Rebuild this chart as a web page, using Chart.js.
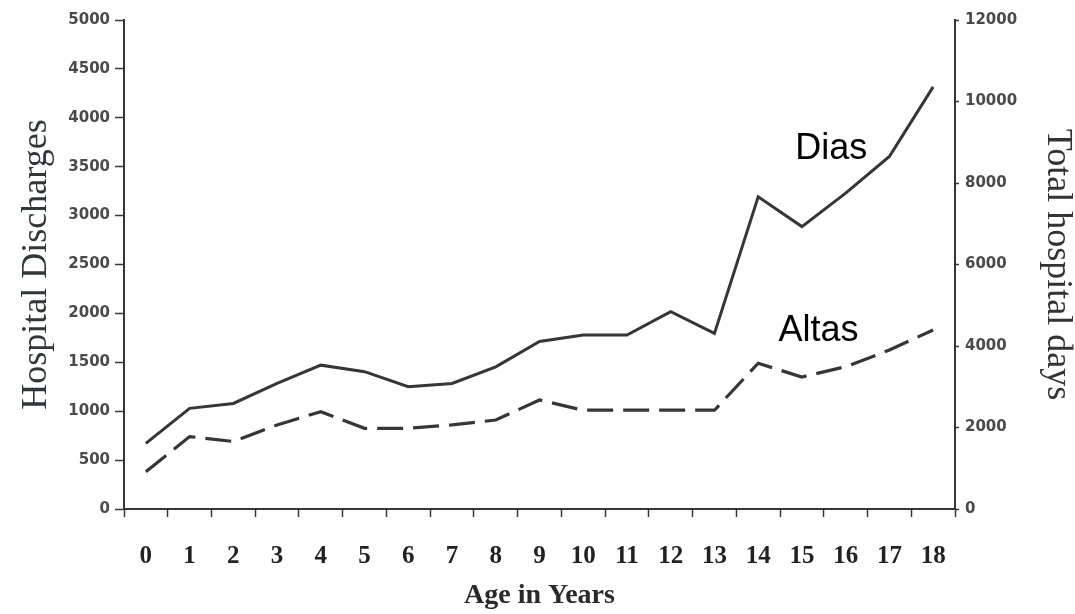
<!DOCTYPE html>
<html>
<head>
<meta charset="utf-8">
<script src="https://cdn.jsdelivr.net/npm/chart.js@4"></script>
<style>
  html, body { margin: 0; padding: 0; background: #fff; }
  #wrap { width: 1075px; height: 614px; }
</style>
</head>
<body>
<div id="wrap"><canvas id="chart" width="1075" height="614"></canvas></div>
<script>
  const ages = ["0", "1", "2", "3", "4", "5", "6", "7", "8", "9", "10", "11", "12", "13", "14", "15", "16", "17", "18"];
  // total hospital days (right axis)
  const dias = [1610, 2470, 2590, 3080, 3530, 3370, 3000, 3080, 3490, 4110, 4270, 4270, 4840, 4310, 7660, 6930, 7750, 8650, 10360];
  // hospital discharges (left axis)
  const altas = [380, 740, 690, 860, 995, 825, 825, 860, 910, 1115, 1010, 1010, 1010, 1010, 1490, 1350, 1455, 1625, 1830];
  // text labels placed in data units: [text, category position, left-axis value]
  const seriesNotes = [
    ["Dias", 15.67, 3680],
    ["Altas", 15.38, 1820],
  ];

  const ink = "#363636";
  const tickFont = { family: "DejaVu Sans", size: 15, weight: "bold" };
  const plain = (value) => String(value);

  const notesPlugin = {
    id: "notes",
    afterDatasetsDraw(chart) {
      const ctx = chart.ctx;
      const x = chart.scales.x;
      const y = chart.scales.y;
      ctx.save();
      ctx.font = "36px 'Liberation Sans', Arial, sans-serif";
      ctx.fillStyle = "#000";
      ctx.textAlign = "center";
      ctx.textBaseline = "middle";
      seriesNotes.forEach(([text, cat, val]) => {
        ctx.fillText(text, x.getPixelForValue(cat), y.getPixelForValue(val));
      });
      ctx.restore();
    },
  };

  new Chart(document.getElementById("chart"), {
    type: "line",
    data: {
      labels: ages,
      datasets: [
        {
          label: "Dias",
          data: dias,
          yAxisID: "y1",
          borderColor: ink,
          borderWidth: 3,
          pointRadius: 0,
          tension: 0,
          fill: false,
        },
        {
          label: "Altas",
          data: altas,
          yAxisID: "y",
          borderColor: ink,
          borderWidth: 3.2,
          borderDash: [26, 10],
          pointRadius: 0,
          tension: 0,
          fill: false,
        },
      ],
    },
    options: {
      responsive: false,
      animation: false,
      layout: { padding: { top: 20, left: 0, right: 0, bottom: 0 } },
      plugins: {
        legend: { display: false },
        tooltip: { enabled: false },
      },
      scales: {
        x: {
          offset: true,
          grid: {
            offset: true,
            drawOnChartArea: false,
            color: ink,
            tickLength: 8,
            tickWidth: 1.5,
          },
          border: { color: ink, width: 2 },
          ticks: {
            color: "#222",
            padding: 25,
            maxRotation: 0,
            autoSkip: false,
            font: { family: "Liberation Serif", size: 25, weight: "bold" },
          },
          title: {
            display: true,
            text: "Age in Years",
            color: "#2a2a2a",
            padding: { top: 0, bottom: 1 },
            font: { family: "Liberation Serif", size: 28, weight: "bold" },
          },
          afterFit(scale) {
            scale.height = 105;
          },
        },
        y: {
          position: "left",
          min: 0,
          max: 5000,
          grid: {
            drawOnChartArea: false,
            color: ink,
            tickLength: 9,
            tickWidth: 1.5,
          },
          border: { color: ink, width: 2 },
          ticks: {
            stepSize: 500,
            color: "#4a4a4a",
            padding: 5,
            font: tickFont,
            callback: plain,
          },
          title: {
            display: true,
            text: "Hospital Discharges",
            color: "#2f373b",
            padding: { top: 19, bottom: 0 },
            font: { family: "Liberation Serif", size: 36, lineHeight: 1 },
          },
          afterFit(scale) {
            scale.width = 124;
          },
        },
        y1: {
          position: "right",
          min: 0,
          max: 12000,
          grid: {
            drawOnChartArea: false,
            color: ink,
            tickLength: 4,
            tickWidth: 1.5,
          },
          border: { color: ink, width: 2 },
          ticks: {
            stepSize: 2000,
            color: "#4a4a4a",
            padding: 6,
            font: tickFont,
            callback: plain,
          },
          title: {
            display: true,
            text: "Total hospital days",
            color: "#333",
            padding: { top: 0, bottom: 0 },
            font: { family: "Liberation Serif", size: 36, lineHeight: 1 },
          },
          afterFit(scale) {
            scale.width = 120;
          },
        },
      },
    },
    plugins: [notesPlugin],
  });
</script>
</body>
</html>
